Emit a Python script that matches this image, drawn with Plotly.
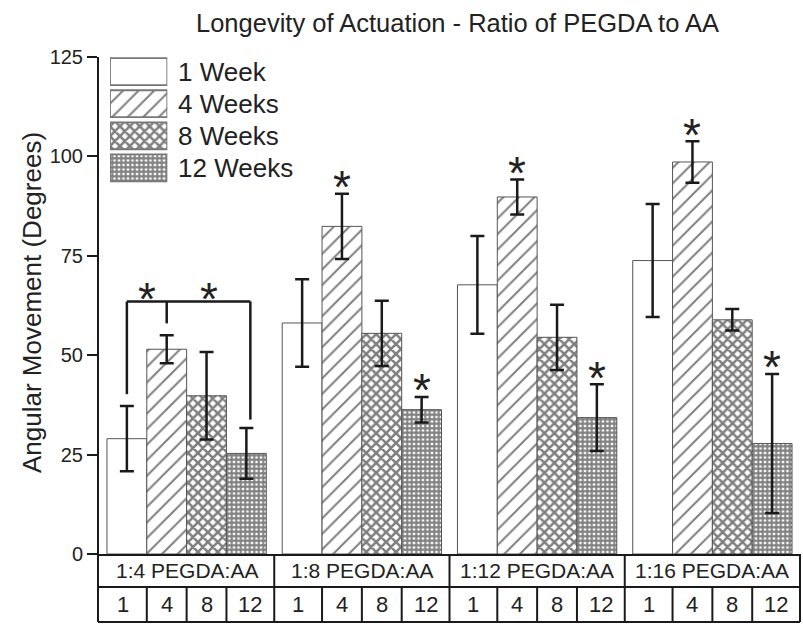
import plotly.graph_objects as go

# ---- data -------------------------------------------------------------
groups = ["1:4 PEGDA:AA", "1:8 PEGDA:AA", "1:12 PEGDA:AA", "1:16 PEGDA:AA"]
weeks = ["1 Week", "4 Weeks", "8 Weeks", "12 Weeks"]
week_ticks = ["1", "4", "8", "12"]
y_ticks = [0, 25, 50, 75, 100, 125]

mean_1wk = [29.0, 58.1, 67.7, 73.8]
mean_4wk = [51.5, 82.4, 89.8, 98.6]
mean_8wk = [39.8, 55.5, 54.5, 58.9]
mean_12wk = [25.3, 36.3, 34.3, 27.8]

sd_1wk = [8.2, 11.0, 12.3, 14.2]
sd_4wk = [3.5, 8.2, 4.4, 5.2]
sd_8wk = [11.0, 8.2, 8.2, 2.7]
sd_12wk = [6.4, 3.2, 8.4, 17.5]

# (group index, week index) pairs flagged as significant
significant = [(1, 1), (1, 3), (2, 1), (2, 3), (3, 1), (3, 3)]

means = [mean_1wk, mean_4wk, mean_8wk, mean_12wk]
sds = [sd_1wk, sd_4wk, sd_8wk, sd_12wk]

# ---- styling ----------------------------------------------------------
FONT = "Liberation Sans, Arial, sans-serif"
W, H = 803, 625
ML, MR, MT, MB = 99, 3, 57, 71
PW, PH = W - ML - MR, H - MT - MB

GROUP_PITCH = 4.4           # bar-width units per group
X_MIN, X_MAX = -0.7, 3 * GROUP_PITCH + 3.7

patterns = [
    dict(shape="", fgcolor="#000", bgcolor="white"),
    dict(shape="/", size=11, solidity=0.18, fgcolor="#000", bgcolor="white"),
    dict(shape="x", size=7, solidity=0.6, fgcolor="#000", bgcolor="white"),
    dict(shape="+", size=4.5, solidity=0.7, fgcolor="#000", bgcolor="white"),
]


def px_x(p):
    return (p - ML) / PW


def px_y(p):
    return (H - MB - p) / PH


def xpos(g, w):
    return g * GROUP_PITCH + w


fig = go.Figure()

for w, name in enumerate(weeks):
    fig.add_trace(go.Bar(
        x=[xpos(g, w) for g in range(len(groups))],
        y=means[w],
        width=1.0,
        name=name,
        marker=dict(color="white", pattern=patterns[w],
                    line=dict(color="#555", width=1)),
        error_y=dict(type="data", array=sds[w], color="#1a1a1a",
                     thickness=2.5, width=7),
        showlegend=False,
    ))

# legend swatches drawn as a small horizontal bar panel
for w, name in enumerate(weeks):
    fig.add_trace(go.Bar(
        x=[1], y=[w], orientation="h", width=0.84,
        marker=dict(color="white", pattern=patterns[w],
                    line=dict(color="#777", width=1.8)),
        xaxis="x2", yaxis="y2", showlegend=False, hoverinfo="skip",
    ))

annotations = []
shapes = []

for w, name in enumerate(weeks):
    annotations.append(dict(
        x=px_x(176), y=w, xref="paper", yref="y2", text=name,
        showarrow=False, xanchor="left", yanchor="middle",
        font=dict(family=FONT, size=26, color="#222")))

# significance stars above error bars
STAR_SIZE = 46
for g, w in significant:
    top = means[w][g] + sds[w][g]
    annotations.append(dict(
        x=xpos(g, w), y=top + 4.3, xref="x", yref="y", text="*",
        showarrow=False, yanchor="middle", yshift=-0.23 * STAR_SIZE,
        font=dict(family=FONT, size=STAR_SIZE, color="#222")))

# bracket across the 1:4 group
br_y = 63.5
line_style = dict(color="#1a1a1a", width=2.5)
shapes += [
    dict(type="line", xref="x", yref="y", x0=0, x1=0, y0=40.2, y1=br_y, line=line_style),
    dict(type="line", xref="x", yref="y", x0=0, x1=3.1, y0=br_y, y1=br_y, line=line_style),
    dict(type="line", xref="x", yref="y", x0=3.1, x1=3.1, y0=33.8, y1=br_y, line=line_style),
    dict(type="line", xref="x", yref="y", x0=1, x1=1, y0=58.0, y1=br_y, line=line_style),
]
for bx in (0.5, 2.05):
    annotations.append(dict(
        x=bx, y=66.9, xref="x", yref="y", text="*", showarrow=False,
        yanchor="middle", yshift=-0.23 * STAR_SIZE,
        font=dict(family=FONT, size=STAR_SIZE, color="#222")))

# category table under the axis
row1_bot = px_y(587)
row2_bot = px_y(622)
tbl_line = dict(color="#1a1a1a", width=2)


def dx(x):
    return (x - X_MIN) / (X_MAX - X_MIN)


shapes.append(dict(type="line", xref="paper", yref="paper", x0=0, x1=1,
                   y0=row1_bot, y1=row1_bot, line=tbl_line))
shapes.append(dict(type="line", xref="paper", yref="paper", x0=-0.0014, x1=1,
                   y0=row2_bot, y1=row2_bot, line=tbl_line))
shapes.append(dict(type="line", xref="paper", yref="paper", x0=-0.0014, x1=-0.0014,
                   y0=0, y1=row2_bot, line=tbl_line))
for g in range(1, len(groups) + 1):
    xb = dx(g * GROUP_PITCH - 0.7)
    shapes.append(dict(type="line", xref="paper", yref="paper", x0=xb, x1=xb,
                       y0=0, y1=row2_bot, line=tbl_line))
for g in range(len(groups)):
    for k in range(3):
        xb = dx(xpos(g, k) + 0.5)
        shapes.append(dict(type="line", xref="paper", yref="paper", x0=xb, x1=xb,
                           y0=row1_bot, y1=row2_bot, line=tbl_line))
    annotations.append(dict(
        x=xpos(g, 1.5), y=(0 + row1_bot) / 2, xref="x", yref="paper",
        text=groups[g], showarrow=False, yanchor="middle",
        font=dict(family=FONT, size=21, color="#222")))
    for w in range(len(weeks)):
        cx0 = g * GROUP_PITCH - 0.7 if w == 0 else xpos(g, w) - 0.5
        cx1 = g * GROUP_PITCH + 3.7 if w == 3 else xpos(g, w) + 0.5
        annotations.append(dict(
            x=(cx0 + cx1) / 2, y=(row1_bot + row2_bot) / 2, xref="x", yref="paper",
            text=week_ticks[w], showarrow=False, yanchor="middle",
            font=dict(family=FONT, size=22, color="#222")))

# titles
annotations.append(dict(
    x=px_x(457), y=px_y(23), xref="paper", yref="paper",
    text="Longevity of Actuation - Ratio of PEGDA to AA", showarrow=False,
    xanchor="center", yanchor="middle",
    font=dict(family=FONT, size=25.5, color="#222")))
annotations.append(dict(
    x=px_x(32), y=px_y(303), xref="paper", yref="paper",
    text="Angular Movement (Degrees)", showarrow=False, textangle=-90,
    xanchor="center", yanchor="middle",
    font=dict(family=FONT, size=26, color="#222")))

fig.update_layout(
    width=W, height=H,
    margin=dict(l=ML, r=MR, t=MT, b=MB),
    paper_bgcolor="white", plot_bgcolor="white",
    barmode="overlay",
    xaxis=dict(range=[X_MIN, X_MAX], showline=True, linecolor="#1a1a1a",
               linewidth=2, showticklabels=False, ticks="", showgrid=False,
               zeroline=False),
    yaxis=dict(range=[0, 125], tickvals=y_ticks, showline=True,
               linecolor="#1a1a1a", linewidth=2, ticks="outside", ticklen=10,
               tickwidth=2, tickcolor="#1a1a1a", showgrid=False, zeroline=False,
               tickfont=dict(family=FONT, size=20, color="#222")),
    xaxis2=dict(domain=[px_x(110), px_x(167.3)], range=[0, 1], anchor="y2",
                visible=False, fixedrange=True),
    yaxis2=dict(domain=[px_y(183.9), 1.0], range=[3.5, -0.457], anchor="x2",
                visible=False, fixedrange=True),
    annotations=annotations,
    shapes=shapes,
    showlegend=False,
)

fig.write_html("out.html")
